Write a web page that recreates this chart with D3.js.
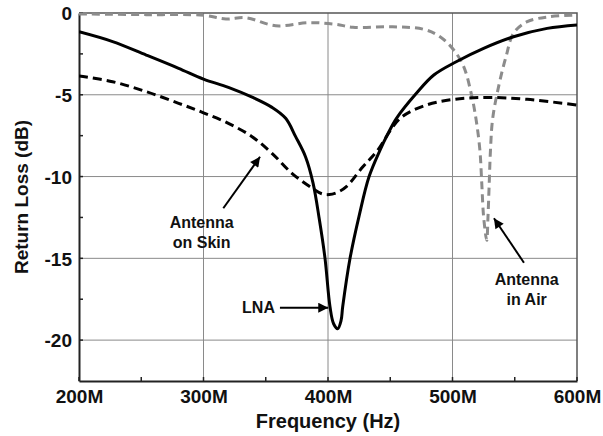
<!DOCTYPE html>
<html lang="en">
<head>
<meta charset="UTF-8">
<title>Return Loss</title>
<script src="https://cdn.jsdelivr.net/npm/d3@7"></script>
<style>
  body { margin: 0; background: #fff; }
  svg { display: block; }
  text { font-family: Arial, "Liberation Sans", Helvetica, sans-serif; font-weight: bold; fill: #111; }
  .tick text { font-size: 19px; fill: #111; }
  .grid line { stroke: #8a8a8a; stroke-width: 1; }
  .note { font-size: 16px; text-anchor: middle; }
</style>
</head>
<body>
<script>
// axis ticks
var freqTicks = [200, 300, 400, 500, 600];       // MHz
var freqMinor = [250, 350, 450, 550];
var dbTicks = [0, -5, -10, -15, -20];
var dbMinor = [-2.5, -7.5, -12.5, -17.5];

// LNA (solid)
var lnaFreq = [200, 227, 254, 280, 300, 320, 340, 355, 366, 374, 382, 388, 393, 397.6, 401.6, 404.5, 407.8, 410.5, 411.8, 417.7, 425, 433, 441.8, 448, 455, 471, 485, 503, 525, 549, 576, 600];
var lnaDb   = [-1.15, -1.75, -2.57, -3.38, -4.04, -4.55, -5.18, -5.77, -6.44, -7.56, -8.8, -10.4, -12.6, -15, -17.96, -19.0, -19.3, -18.8, -17.96, -15, -12.4, -10, -8.38, -7.4, -6.44, -4.91, -3.79, -2.98, -2.16, -1.45, -0.94, -0.73];

// Antenna on skin (black dashed)
var skinFreq = [200, 227, 254, 280, 300, 320, 339, 355, 371, 387, 395, 401, 408, 415, 428, 439, 458, 479, 501, 528, 560, 600];
var skinDb   = [-3.85, -4.2, -4.81, -5.52, -6.1, -6.75, -7.56, -8.58, -9.8, -10.7, -11.05, -11.1, -10.95, -10.6, -9.4, -8.48, -6.44, -5.63, -5.28, -5.16, -5.28, -5.63];

// Antenna in air (grey dashed)
var airFreq = [200, 254, 300, 318, 334, 358, 385, 406, 420, 452, 477, 490, 501, 509, 515, 519, 522, 523.5, 525, 527.5, 528.5, 529.5, 530.5, 532.3, 537.6, 543, 549, 560, 578, 600];
var airDb   = [-0.06, -0.1, -0.14, -0.37, -0.29, -0.78, -0.59, -0.69, -0.87, -0.84, -1.0, -1.45, -2.26, -3.28, -4.91, -6.54, -8.38, -10.4, -12.46, -13.9, -12.46, -10.4, -8.38, -6.44, -4.3, -2.67, -1.24, -0.53, -0.23, -0.12];

var width = 603, height = 436;
var pLeft = 79, pRight = 577, pTop = 13, pBottom = 381;

var svg = d3.select("body").append("svg")
  .attr("width", width)
  .attr("height", height);

var x = d3.scaleLinear().domain([200, 600]).range([pLeft, pRight]);
var y = d3.scaleLinear().domain([-22.5, 0]).range([pBottom, pTop]);

// grid
var grid = svg.append("g").attr("class", "grid");
grid.selectAll(".v").data(freqTicks.slice(1, -1)).enter().append("line")
  .attr("x1", d => x(d)).attr("x2", d => x(d))
  .attr("y1", pTop).attr("y2", pBottom);
grid.selectAll(".h").data(dbTicks.slice(1)).enter().append("line")
  .attr("x1", pLeft).attr("x2", pRight)
  .attr("y1", d => y(d)).attr("y2", d => y(d));

// top / right frame
svg.append("path")
  .attr("d", "M" + pLeft + "," + pTop + "H" + pRight + "V" + pBottom)
  .attr("fill", "none").attr("stroke", "#555").attr("stroke-width", 1.5);

// axes
var xAxis = d3.axisBottom(x).tickValues(freqTicks).tickSize(0).tickPadding(9)
  .tickFormat(d => d + "M");
var gx = svg.append("g").attr("transform", "translate(0," + pBottom + ")").call(xAxis);
gx.select(".domain").attr("stroke", "#222").attr("stroke-width", 2);

var yAxis = d3.axisLeft(y).tickValues(dbTicks).tickSize(0).tickPadding(7)
  .tickFormat(d => String(d));
var gy = svg.append("g").attr("transform", "translate(" + pLeft + ",0)").call(yAxis);
gy.select(".domain").attr("stroke", "#222").attr("stroke-width", 2);
gy.selectAll(".tick text").attr("dy", "0.36em");

// inward ticks
svg.append("g").selectAll("line").data(freqTicks.concat(freqMinor)).enter().append("line")
  .attr("x1", d => x(d)).attr("x2", d => x(d))
  .attr("y1", pBottom).attr("y2", pBottom - 4)
  .attr("stroke", "#222").attr("stroke-width", 1.5);
svg.append("g").selectAll("line").data(dbTicks.concat(dbMinor)).enter().append("line")
  .attr("x1", pLeft).attr("x2", pLeft + 4)
  .attr("y1", d => y(d)).attr("y2", d => y(d))
  .attr("stroke", "#222").attr("stroke-width", 1.5);

// axis titles
svg.append("text")
  .attr("x", (pLeft + pRight) / 2).attr("y", 428)
  .attr("text-anchor", "middle").style("font-size", "20px")
  .text("Frequency (Hz)");
svg.append("text")
  .attr("transform", "translate(28," + (pTop + pBottom) / 2 + ") rotate(-90)")
  .attr("text-anchor", "middle").style("font-size", "19px")
  .text("Return Loss (dB)");

// curves
var line = d3.line()
  .x(d => x(d[0])).y(d => y(d[1]))
  .curve(d3.curveCatmullRom.alpha(0.5));

svg.append("clipPath").attr("id", "plot").append("rect")
  .attr("x", pLeft).attr("y", pTop - 2).attr("width", pRight - pLeft).attr("height", pBottom - pTop + 2);

var curves = svg.append("g").attr("clip-path", "url(#plot)");

curves.append("path")
  .datum(d3.zip(airFreq, airDb))
  .attr("d", line)
  .attr("fill", "none").attr("stroke", "#8c8c8c").attr("stroke-width", 3)
  .attr("stroke-dasharray", "8,5");

curves.append("path")
  .datum(d3.zip(skinFreq, skinDb))
  .attr("d", line)
  .attr("fill", "none").attr("stroke", "#000").attr("stroke-width", 3)
  .attr("stroke-dasharray", "9,5");

curves.append("path")
  .datum(d3.zip(lnaFreq, lnaDb))
  .attr("d", line)
  .attr("fill", "none").attr("stroke", "#000").attr("stroke-width", 3);

// annotations
svg.append("defs").append("marker")
  .attr("id", "head")
  .attr("viewBox", "0 0 10 10")
  .attr("refX", 10).attr("refY", 5)
  .attr("markerUnits", "userSpaceOnUse")
  .attr("markerWidth", 12).attr("markerHeight", 10)
  .attr("orient", "auto")
  .append("path").attr("d", "M0,0L10,5L0,10z").attr("fill", "#000");

var arrows = [
  [315.9, -11.94, 345.4, -8.79],
  [361.4, -18.02, 400.2, -18.02],
  [557.4, -15.27, 533.3, -12.55]
];
svg.append("g").selectAll("line").data(arrows).enter().append("line")
  .attr("x1", d => x(d[0])).attr("y1", d => y(d[1]))
  .attr("x2", d => x(d[2])).attr("y2", d => y(d[3]))
  .attr("stroke", "#000").attr("stroke-width", 2)
  .attr("marker-end", "url(#head)");

var skinText = svg.append("text").attr("class", "note")
  .attr("x", x(298.5)).attr("y", y(-13.13));
skinText.append("tspan").attr("x", x(298.5)).text("Antenna");
skinText.append("tspan").attr("x", x(298.5)).attr("dy", 20).text("on Skin");

svg.append("text").attr("class", "note")
  .attr("x", x(357.4)).attr("y", y(-18.32))
  .style("text-anchor", "end")
  .text("LNA");

var airText = svg.append("text").attr("class", "note")
  .attr("x", x(559.6)).attr("y", y(-16.63));
airText.append("tspan").attr("x", x(559.6)).text("Antenna");
airText.append("tspan").attr("x", x(559.6)).attr("dy", 20).text("in Air");
</script>
</body>
</html>
